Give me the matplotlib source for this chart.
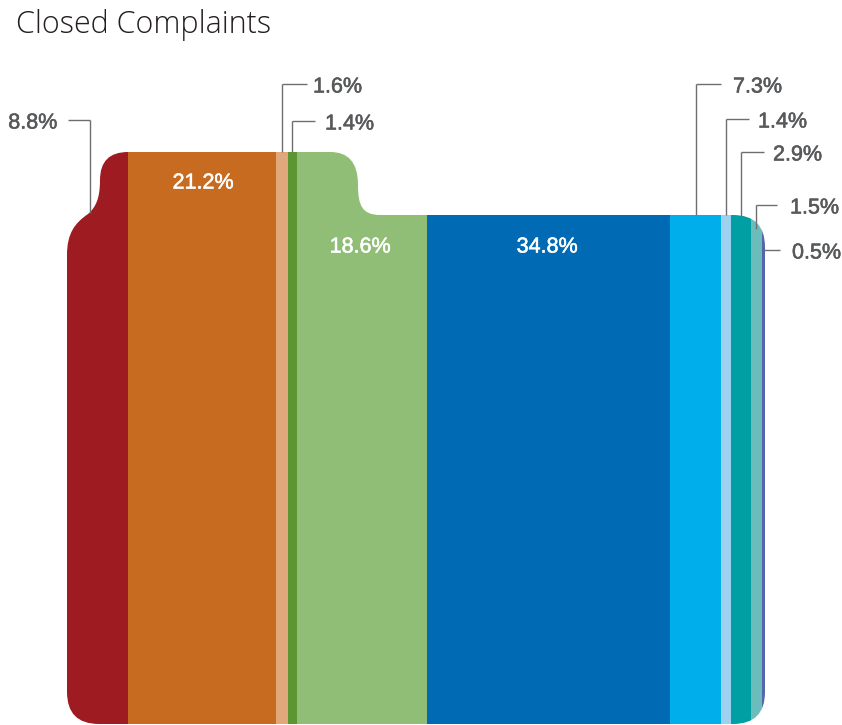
import matplotlib
matplotlib.use("Agg")
import matplotlib.pyplot as plt
import matplotlib.patheffects as pe
from matplotlib.path import Path
from matplotlib.patches import PathPatch
import numpy as np

# Share of closed complaints by category (percent), left to right
shares = [8.8, 21.2, 1.6, 1.4, 18.6, 34.8, 7.3, 1.4, 2.9, 1.5, 0.5]
labels = ["8.8%", "21.2%", "1.6%", "1.4%", "18.6%", "34.8%",
          "7.3%", "1.4%", "2.9%", "1.5%", "0.5%"]
colors = ["#9E1B22", "#C76B21", "#E1A97B", "#5B9632", "#90BE76", "#006AB4",
          "#00AEEC", "#9DD1F0", "#009FA3", "#6BBDBB", "#5566AE"]

W, H = 842, 725
fig = plt.figure(figsize=(W / 100, H / 100), dpi=100)
ax = fig.add_axes([0, 0, 1, 1])
ax.set_xlim(0, W)
ax.set_ylim(H, 0)
ax.axis("off")

# Folder body spans x0..x1 in pixel space; percentages map linearly onto it
x0, x1 = 67, 765
scale = (x1 - x0) / 100.0
lefts = x0 + scale * np.concatenate([[0], np.cumsum(shares)[:-1]])
widths = scale * np.array(shares)

# Folder outline (y grows downward)
M, L, C3, C4 = Path.MOVETO, Path.LINETO, Path.CURVE3, Path.CURVE4
verts = [
    (67, 255), (67, 692),
    (67, 724), (99, 724),
    (733, 724),
    (765, 724), (765, 692),
    (765, 247),
    (765, 215), (733, 215),
    (380, 215),
    (362, 215), (358, 205), (358, 185),
    (358, 162), (348, 152), (330, 152),
    (128, 152),
    (100, 152), (100, 180),
    (100, 198), (96, 207), (88, 214),
    (75, 223), (67, 233), (67, 255),
]
codes = [M, L,
         C3, C3,
         L,
         C3, C3,
         L,
         C3, C3,
         L,
         C4, C4, C4,
         C4, C4, C4,
         L,
         C3, C3,
         C4, C4, C4,
         C4, C4, C4]
folder = PathPatch(Path(verts, codes), facecolor="none", edgecolor="none",
                   transform=ax.transData)
ax.add_patch(folder)

bars = ax.bar(lefts, H, width=widths, bottom=0, align="edge",
              color=colors, linewidth=0)
for b in bars:
    b.set_clip_path(folder)

label_font = dict(family=["Liberation Sans", "DejaVu Sans"], fontsize=15.5)
gray = "#58595B"
line_kw = dict(color="#6D6E70", lw=1.0, solid_capstyle="butt")


def heavier(color):
    # thin same-colour outline gives a medium weight look
    return [pe.withStroke(linewidth=0.4, foreground=color)]


# Labels drawn inside the wide stripes
inside = {1: (203, 183), 4: (360, 247), 5: (547, 247)}
for i, (tx, ty) in inside.items():
    ax.text(tx, ty, labels[i], color="white", ha="center", va="center",
            path_effects=heavier("white"), **label_font)

# Leader-line labels: (index, line x, elbow y, line end y, text x, horiz end x)
centers = lefts + widths / 2
callouts = [
    (0, 90, 120, 213, 57, 68, "right"),
    (2, centers[2], 84, 152, 313, centers[2] + 25, "left"),
    (3, centers[3], 121, 152, 325, centers[3] + 23, "left"),
    (6, centers[6], 84, 215, 733, centers[6] + 25, "left"),
    (7, centers[7], 119, 215, 758, centers[7] + 23, "left"),
    (8, centers[8], 152, 217, 773, centers[8] + 23, "left"),
    (9, centers[9], 205, 229, 790, centers[9] + 21, "left"),
]
for i, lx, ey, by, tx, hx, ha in callouts:
    ax.plot([lx, lx], [by, ey], **line_kw)
    ax.plot([lx, hx], [ey, ey], **line_kw)
    ax.text(tx, ey + 3, labels[i], color=gray, ha=ha, va="center",
            path_effects=heavier(gray), **label_font)

# Thinnest stripe gets a horizontal leader from the folder's right edge
ax.plot([x1 - 2, 780], [250, 250], **line_kw)
ax.text(792, 253, labels[10], color=gray, ha="left", va="center",
        path_effects=heavier(gray), **label_font)

ax.text(16, 25, "Closed Complaints", color="#231F20", ha="left",
        va="center", fontsize=22, fontweight="light",
        family=["Open Sans", "DejaVu Sans"])

fig.savefig("out.png", dpi=100)
